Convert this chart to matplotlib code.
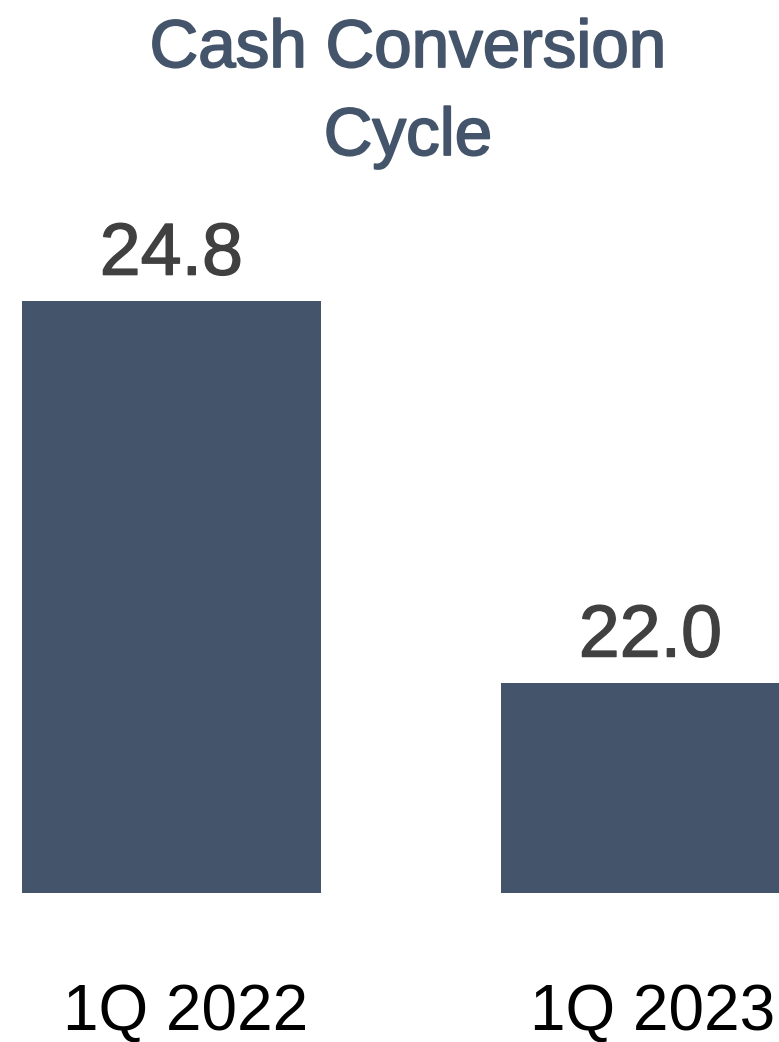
import matplotlib
matplotlib.use("Agg")
import matplotlib.pyplot as plt
import matplotlib.patheffects as pe
from matplotlib.transforms import ScaledTranslation

categories = ["1Q 2022", "1Q 2023"]
values = [24.8, 22.0]
title_lines = ["Cash Conversion", "Cycle"]

BAR = "#44546A"
VAL = "#404040"
FONT = ["Liberation Sans", "DejaVu Sans"]

W, H = 779, 1042
fig = plt.figure(figsize=(W / 100, H / 100), dpi=100)

ax_bottom_px = 893
ax_top_px = 200
ax = fig.add_axes([0, (H - ax_bottom_px) / H, 1, (ax_bottom_px - ax_top_px) / H])

x = list(range(len(categories)))
ax.bar(x, values, width=0.624, color=BAR, zorder=2)

ymin = 20.46
px_per_unit = 136.4
ax.set_ylim(ymin, ymin + (ax_bottom_px - ax_top_px) / px_per_unit)
ax.set_xlim(-171.5 / 479, (W - 171.5) / 479)

for xi, v in zip(x, values):
    ax.annotate(f"{v:.1f}", xy=(xi, v), xytext=(0, 19), textcoords="offset points",
                ha="center", va="baseline", fontsize=53, color=VAL, family=FONT,
                path_effects=[pe.withStroke(linewidth=1.0, foreground=VAL)])

ax.set_xticks(x)
ax.set_xticklabels(categories, fontsize=46, color="black", family=FONT)
ax.tick_params(axis="x", length=0, pad=65)
for lab, dx in zip(ax.get_xticklabels(), [14, 2.5]):
    lab.set_transform(lab.get_transform() + ScaledTranslation(dx / 100, 0, fig.dpi_scale_trans))
ax.set_yticks([])
for s in ax.spines.values():
    s.set_visible(False)
ax.patch.set_alpha(0)

for line, base in zip(title_lines, [67, 155]):
    fig.text(408 / W, 1 - base / H, line, ha="center", va="baseline",
             fontsize=48.5, color=BAR, family=FONT,
             path_effects=[pe.withStroke(linewidth=1.3, foreground=BAR)])

fig.savefig("out.png", dpi=100)
